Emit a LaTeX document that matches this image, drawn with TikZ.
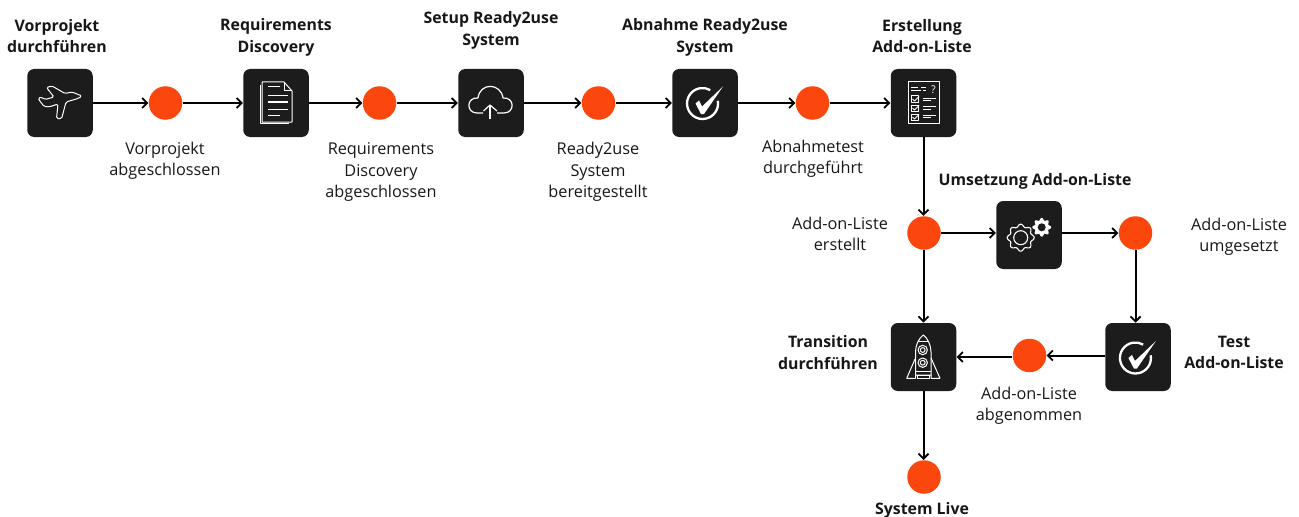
\documentclass[tikz,border=0pt]{standalone}
\usepackage{fontspec}
\usetikzlibrary{arrows.meta}
\setmainfont{Open Sans}
\definecolor{taskcolor}{rgb}{0.110000, 0.110000, 0.110000}
\definecolor{eventcolor}{rgb}{0.984000, 0.275000, 0.055000}
\definecolor{textcolor}{rgb}{0.090000, 0.090000, 0.090000}
\newlength{\du}
\setlength{\du}{0.75pt}
\tikzset{
  task/.style={fill=taskcolor,rounded corners=7\du,minimum width=65.5\du,minimum height=68\du,inner sep=0pt},
  event/.style={circle,fill=eventcolor,minimum size=33.5\du,inner sep=0pt},
  flow/.style={-{Straight Barb[length=3.75pt,width=7.5pt,line width=1.35pt]},line width=2\du,black},
  tasklabel/.style={align=center,font=\bfseries\fontsize{11.9}{16}\selectfont,text=textcolor,inner sep=0pt},
  eventlabel/.style={align=center,font=\fontsize{12.2}{16}\selectfont,text=textcolor,inner sep=0pt},
  iconline/.style={draw=white,line width=1\du,line join=round},
  iconbold/.style={draw=white,line width=2.3\du}
}
\newcommand{\checkicon}[1]{
\begin{scope}[shift={#1}]
\draw[iconbold] (15.3,-2.7) arc[start angle=-10,end angle=300,radius=15.5];
\fill[white] (-7,0) -- (-3.5,-3) -- (-0.5,3) -- (20.5,-17) -- (1.5,10.5) -- (-1.5,10.5) -- cycle;
\end{scope}
}

\begin{document}
\begin{tikzpicture}[x=\du,y=\du]
\pgftransformxscale{1.000000}
\pgftransformyscale{-1.000000}
\useasboundingbox (0,0) rectangle (1299,517);
% tasks
\node[task] (flight) at (60,103) {};
\node[task] (discovery) at (276,103) {};
\node[task] (setup) at (491,103) {};
\node[task] (accept) at (705,103) {};
\node[task] (listing) at (923.5,103) {};
\node[task] (build) at (1029,235) {};
\node[task] (testing) at (1138,357) {};
\node[task] (transition) at (923.5,357) {};
% events
\node[event] (flightdone) at (165.5,103) {};
\node[event] (discoverydone) at (379.5,103) {};
\node[event] (setupdone) at (598.5,103) {};
\node[event] (acceptdone) at (812.5,103) {};
\node[event] (listingdone) at (924,233) {};
\node[event] (builddone) at (1135.5,233) {};
\node[event] (testingdone) at (1029.5,355.5) {};
\node[event] (live) at (924,477) {};
% task labels
\node[tasklabel] (flighttext) at (57,36) {Vorprojekt\\durchführen};
\node[tasklabel] (discoverytext) at (276,37.5) {Requirements\\Discovery};
\node[tasklabel] (setuptext) at (491,30.5) {Setup Ready2use\\System};
\node[tasklabel] (accepttext) at (705,37.5) {Abnahme Ready2use\\System};
\node[tasklabel] (listingtext) at (922,36) {Erstellung\\Add-on-Liste};
\node[tasklabel] (buildtext) at (1035,181) {Umsetzung Add-on-Liste};
\node[tasklabel] (testingtext) at (1234,352.5) {Test\\Add-on-Liste};
\node[tasklabel] (transitiontext) at (828,352.5) {Transition\\durchführen};
\node[tasklabel] (livetext) at (922,510.5) {System Live};
% event labels
\node[eventlabel] (flightdonetext) at (165,161) {Vorprojekt\\abgeschlossen};
\node[eventlabel] (discoverydonetext) at (381,172) {Requirements\\Discovery\\abgeschlossen};
\node[eventlabel] (setupdonetext) at (598,172) {Ready2use\\System\\bereitgestellt};
\node[eventlabel] (acceptdonetext) at (813,159) {Abnahmetest\\durchgeführt};
\node[eventlabel] (listingdonetext) at (840,234) {Add-on-Liste\\erstellt};
\node[eventlabel] (builddonetext) at (1239,237) {Add-on-Liste\\umgesetzt};
\node[eventlabel] (testingdonetext) at (1029,405.5) {Add-on-Liste\\abgenommen};
% connectors
\draw[flow] (flight) -- (flightdone);
\draw[flow] (flightdone) -- (discovery);
\draw[flow] (discovery) -- (discoverydone);
\draw[flow] (discoverydone) -- (setup);
\draw[flow] (setup) -- (setupdone);
\draw[flow] (setupdone) -- (accept);
\draw[flow] (accept) -- (acceptdone);
\draw[flow] (acceptdone) -- (listing);
\draw[flow] (listing) -- (listing |- listingdone.north);
\draw[flow] (listingdone) -- (listingdone -| build.west);
\draw[flow] (build.east |- builddone) -- (builddone);
\draw[flow] (builddone) -- (builddone |- testing.north);
\draw[flow] (testing.west |- testingdone) -- (testingdone);
\draw[flow] (testingdone.west |- transition) -- (transition);
\draw[flow] (listingdone.south -| transition) -- (transition);
\draw[flow] (transition) -- (transition |- live.north);
% plane
\draw[iconline,rounded corners=1.5\du] (82,96) -- (72,92) -- (65,93.5) -- (52,86) -- (46.5,87.5) -- (54,97) -- (45,99.5) -- (41,97) -- (38,98.5) -- (44,106.5) -- (50,106.7) -- (58,104) -- (56.5,118.5) -- (61.7,118.5) -- (66,102) -- (78,98.5) -- cycle;
% document
\draw[iconline] (260,85) -- (260,123.5) -- (289,123.5);
\draw[iconline,fill=taskcolor] (262,82) -- (284,82) -- (292,91) -- (292,122) -- (262,122) -- cycle;
\draw[iconline] (284,82) -- (284,91) -- (292,91);
\draw[iconline] (268,87) -- (280,87);
\draw[iconline] (268,96) -- (288,96);
\draw[iconline] (268,102) -- (288,102);
\draw[iconline] (268,109) -- (288,109);
\draw[iconline] (268,115) -- (280,115);
% cloud
\draw[iconline,line width=1.2\du] (483,113) -- (477,113) .. controls (466,113) and (466,97) .. (478,98) .. controls (480,82) and (501,83) .. (503,98) .. controls (515,97) and (515,113) .. (504,113) -- (497,113);
\draw[iconline,line width=1.2\du] (490,119) -- (490,105);
\draw[iconline,line width=1.2\du] (483.5,111) -- (490,105) -- (497,111);
% check marks
\checkicon{(702.5,103.5)}
\checkicon{(1135.4,358)}
% checklist
\draw[iconline] (908,82) rectangle (939,123);
\draw[iconline] (911,87.3) -- (918,87.3);
\draw[iconline] (921,87.3) -- (926,87.3);
\draw[iconline] (911,91) -- (921,91);
\draw[iconline] (923,91) -- (926,91);
\node[text=white,inner sep=0pt,font=\fontsize{8}{8}\selectfont] (question) at (933.3,89.3) {?};
\draw[iconline] (911,96) rectangle (918,102.5);
\draw[iconline] (912.5,99) -- (914.5,101) -- (919,96.5);
\draw[iconline] (923,98.3) -- (936,98.3);
\draw[iconline] (923,100.7) -- (931,100.7);
\draw[iconline] (911,105) rectangle (918,111.5);
\draw[iconline] (912.5,108) -- (914.5,110) -- (919,105.5);
\draw[iconline] (923,106.7) -- (936,106.7);
\draw[iconline] (923,109) -- (931,109);
\draw[iconline] (911,114) rectangle (918,120.5);
\draw[iconline] (912.5,117) -- (914.5,119) -- (919,114.5);
\draw[iconline] (923,115) -- (936,115);
\draw[iconline] (923,117.7) -- (931,117.7);
% gears
\begin{scope}[shift={(1020.7,237.7)}]
\draw[iconline,line width=1.1\du] plot[domain=0:360,samples=145,smooth] (\x:{12.2+1.3*cos(8*\x)}) -- cycle;
\draw[iconline,line width=1.1\du] (0,0) circle (7);
\end{scope}
\begin{scope}[shift={(1041.7,227.3)}]
\fill[white] plot[domain=0:360,samples=145,smooth] (\x:{8.2+1.2*cos(8*\x)}) -- cycle;
\fill[taskcolor] (0,0) circle (4);
\end{scope}
% rocket
\draw[iconline] (915.5,375) -- (915.5,352) .. controls (915.5,345) and (919,338) .. (923.3,335) .. controls (927.5,338) and (931,345) .. (931,352) -- (931,375) -- cycle;
\draw[iconline] (917.5,341.7) -- (929,341.7);
\draw[iconline] (915.5,371.7) -- (931,371.7);
\draw[iconline] (922.7,350) circle (4.7);
\draw[iconline] (922.7,350) circle (2.4);
\draw[iconline] (922.7,362.7) circle (4.7);
\draw[iconline] (922.7,362.7) circle (2.4);
\draw[iconline] (915.5,358) -- (906.7,378.3) -- (915.5,378.3) -- (915.5,375);
\draw[iconline] (931,358) -- (940,378.3) -- (931,378.3) -- (931,375);
\draw[iconline] (917.7,375) rectangle (929,378.3);
\end{tikzpicture}
\end{document}
